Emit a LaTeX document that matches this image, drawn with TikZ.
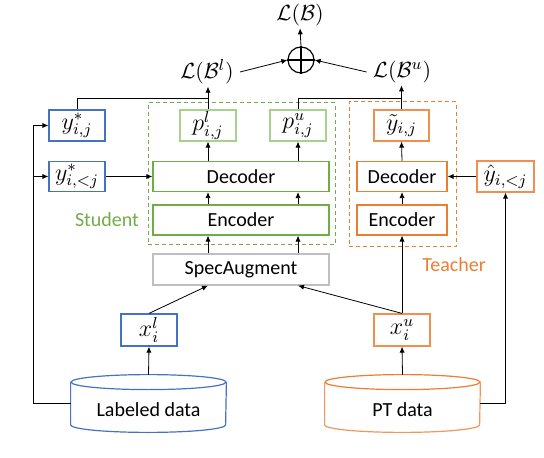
\documentclass[tikz,border=0pt]{standalone}
\usepackage{fontspec}
\setmainfont{Carlito}
\usetikzlibrary{arrows.meta,calc}
\definecolor{cblue}{HTML}{4472C4}
\definecolor{cgreen}{HTML}{70AD47}
\definecolor{lgreen}{HTML}{A9D18E}
\definecolor{corange}{HTML}{ED7D31}
\definecolor{lorange}{HTML}{F4B183}
\definecolor{cgray}{HTML}{BFBFBF}
\begin{document}
\begin{tikzpicture}[x=0.5pt,y=-0.5pt,
  box/.style={draw,line width=0.6pt,inner sep=0pt,font=\normalsize},
  mbox/.style={box,font=\large},
  bluebox/.style={mbox,draw=cblue,minimum width=28pt,minimum height=15.5pt},
  pbox/.style={mbox,draw=lgreen,minimum width=28pt,minimum height=15.5pt},
  sbox/.style={box,draw=cgreen,minimum width=88pt,minimum height=15pt},
  tbox/.style={box,draw=corange,minimum width=45pt,minimum height=15pt},
  obox/.style={mbox,draw=corange!85!white,minimum width=28pt,minimum height=15.5pt},
  frame/.style={draw,dashed,dash pattern=on 2pt off 1.5pt,line width=0.5pt,inner sep=0pt},
  cylnode/.style={inner sep=0pt,minimum width=77.5pt,minimum height=28.5pt},
  cylline/.style={line width=0.6pt},
  lbl/.style={inner sep=1pt,font=\fontsize{11}{13}\selectfont},
  arr/.style={-{Latex[length=3pt,width=2.6pt]},line width=0.4pt},
  con/.style={line width=0.4pt}]
\useasboundingbox (0,0) rectangle (544,458);

% frames
\node[frame,draw=cgreen,minimum width=93.5pt,minimum height=71pt] (sframe) at (241.5,174) {};
\node[frame,draw=corange,minimum width=53.5pt,minimum height=72.5pt] (tframe) at (402.5,174.5) {};
\node[text=cgreen] (stu) at (107,220) {Student};
\node[text=corange] (tea) at (454,265) {Teacher};

% loss nodes
\node[lbl] (LB) at (300,15) {$\mathcal{L}(\mathcal{B})$};
\node[draw,circle,minimum size=13pt,inner sep=0pt,line width=0.6pt] (plus) at (301,60) {};
\draw[line width=0.6pt] (plus.north) -- (plus.south) (plus.west) -- (plus.east);
\node[lbl] (LBl) at (207,72) {$\mathcal{L}(\mathcal{B}^l)$};
\node[lbl] (LBu) at (402,72) {$\mathcal{L}(\mathcal{B}^u)$};

% student side
\node[bluebox] (yij) at (77,125.5) {$y^{*}_{i,j}$};
\node[bluebox,minimum height=15pt] (yless) at (77,176.5) {$y^{*}_{i,<j}$};
\node[pbox] (pl) at (208,125.5) {$p^{l}_{i,j}$};
\node[pbox] (pu) at (298,125.5) {$p^{u}_{i,j}$};
\node[sbox] (sdec) at (241,176.5) {Decoder};
\node[sbox] (senc) at (241,220) {Encoder};
\node[box,draw=cgray,minimum width=88pt,minimum height=15.5pt] (spec) at (241,269.5) {SpecAugment};

% teacher side
\node[obox,minimum width=27.5pt] (yt) at (401.5,125.5) {$\tilde{y}_{i,j}$};
\node[tbox] (tdec) at (402,176.5) {Decoder};
\node[tbox] (tenc) at (402,220) {Encoder};
\node[obox,minimum width=28.5pt] (yhat) at (505.5,176.5) {$\hat{y}_{i,<j}$};

% inputs
\node[bluebox,minimum height=16pt] (xl) at (149,330) {$x^{l}_{i}$};
\node[obox,minimum height=16pt] (xu) at (402,330) {$x^{u}_{i}$};

% cylinders
\node[cylnode] (lab) at (148.5,403.5) {};
\node[cylnode] (pt) at (402.5,403.5) {};
\draw[cylline,cblue] ($(lab.north)+(0,7.5)$) ellipse [x radius=38.75pt, y radius=3.75pt];
\draw[cylline,cblue] ($(lab.north west)+(0,7.5)$) -- ($(lab.south west)+(0,-7.5)$)
  arc[start angle=180,end angle=360,x radius=38.75pt,y radius=3.75pt] -- ($(lab.north east)+(0,7.5)$);
\node at ($(lab.center)+(0,6)$) {Labeled data};
\draw[cylline,corange] ($(pt.north)+(0,7.5)$) ellipse [x radius=38.75pt, y radius=3.75pt];
\draw[cylline,corange!80!white] ($(pt.north west)+(0,7.5)$) -- ($(pt.south west)+(0,-7.5)$)
  arc[start angle=180,end angle=360,x radius=38.75pt,y radius=3.75pt] -- ($(pt.north east)+(0,7.5)$);
\node at ($(pt.center)+(0,6)$) {PT data};

% connectors
\draw[arr] (lab.north) -- (xl.south);
\draw[arr] (pt.north) -- (xu.south);
\draw[arr] (xl.north) -- (spec.south -| pl);
\draw[arr] (xu.north) -- (spec.south -| pu);
\draw[arr] (xu.north) -- (tenc.south);
\draw[arr] (spec.north -| pl) -- (senc.south -| pl);
\draw[arr] (spec.north -| pu) -- (senc.south -| pu);
\draw[arr] (senc.north -| pl) -- (sdec.south -| pl);
\draw[arr] (senc.north -| pu) -- (sdec.south -| pu);
\draw[arr] (sdec.north -| pl) -- (pl.south);
\draw[arr] (sdec.north -| pu) -- (pu.south);
\draw[arr] (yless.east) -- (sdec.west);
\draw[arr] (tenc.north) -- (tdec.south);
\draw[arr] (tdec.north) -- (yt.south);
\draw[arr] (yhat.west) -- (tdec.east);

\coordinate (jl) at (208,98);
\coordinate (ju) at (402,98);
\draw[con] (yij.north) |- (jl);
\draw[arr] (pl.north) -- (pl.north |- LBl.south);
\draw[con] (pu.north) |- (ju);
\draw[arr] (yt.north) -- (yt.north |- LBu.south);

\draw[arr] ([xshift=2pt]LBl.east) -- (plus.west);
\draw[arr] ([xshift=-2pt]LBu.west) -- (plus.east);
\draw[arr] (plus.north) -- (LB.south);

\coordinate (lc) at (33,403.5);
\draw[arr] (lab.west) -- (lc) |- (yij.west);
\draw[arr] (lc |- yless.west) -- (yless.west);
\draw[arr] (pt.east) -| (yhat.south);
\end{tikzpicture}
\end{document}
